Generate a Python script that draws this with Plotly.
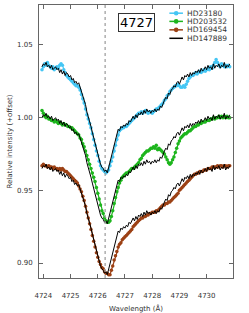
import plotly.graph_objects as go

wl_start = 4723.95
wl_step = 0.05

hd147889 = [
    1.035, 1.037, 1.036, 1.038, 1.035, 1.036, 1.034, 1.036, 1.033, 1.034,
    1.035, 1.033, 1.034, 1.031, 1.033, 1.030, 1.032, 1.029, 1.031, 1.030,
    1.028, 1.029, 1.026, 1.027, 1.024, 1.025, 1.023, 1.024, 1.021, 1.019,
    1.016, 1.012, 1.009, 1.004, 1.001, 0.997, 0.994, 0.990, 0.986, 0.982,
    0.978, 0.974, 0.971, 0.968, 0.966, 0.965, 0.963, 0.964, 0.962, 0.966,
    0.969, 0.974, 0.977, 0.982, 0.986, 0.990, 0.992, 0.991, 0.994, 0.993,
    0.995, 0.994, 0.996, 0.995, 0.998, 0.997, 0.999, 1.001, 0.999, 1.002,
    1.000, 1.003, 1.002, 1.004, 1.002, 1.005, 1.003, 1.006, 1.004, 1.005,
    1.003, 1.005, 1.004, 1.006, 1.004, 1.006, 1.005, 1.008, 1.007, 1.010,
    1.012, 1.014, 1.013, 1.017, 1.016, 1.019, 1.020, 1.022, 1.021, 1.024,
    1.025, 1.023, 1.026, 1.028, 1.026, 1.029, 1.028, 1.030, 1.028, 1.031,
    1.029, 1.031, 1.030, 1.032, 1.031, 1.033, 1.031, 1.034, 1.032, 1.033,
    1.035, 1.033, 1.036, 1.034, 1.035, 1.033, 1.037, 1.034, 1.036, 1.035,
    1.037, 1.034, 1.036, 1.035, 1.038, 1.034, 1.036, 1.035, 1.037,
]
hd147889_offsets = [0.0, -0.035, -0.070]

hd23180 = [
    1.033, 1.035, 1.037, 1.036, 1.038, 1.036, 1.035, 1.034, 1.035, 1.033,
    1.034, 1.035, 1.034, 1.036, 1.037, 1.036, 1.033, 1.031, 1.029, 1.028,
    1.027, 1.026, 1.025, 1.024, 1.023, 1.022, 1.022, 1.021, 1.019, 1.016,
    1.013, 1.010, 1.006, 1.002, 0.999, 0.996, 0.993, 0.989, 0.985, 0.981,
    0.977, 0.974, 0.970, 0.967, 0.965, 0.964, 0.963, 0.962, 0.963, 0.964,
    0.967, 0.970, 0.973, 0.977, 0.981, 0.985, 0.988, 0.991, 0.992, 0.993,
    0.993, 0.994, 0.994, 0.995, 0.996, 0.997, 0.998, 0.999, 1.000, 1.001,
    1.002, 1.003, 1.003, 1.004, 1.003, 1.004, 1.005, 1.004, 1.003, 1.004,
    1.004, 1.003, 1.004, 1.005, 1.006, 1.006, 1.007, 1.008, 1.009, 1.010,
    1.012, 1.013, 1.015, 1.016, 1.018, 1.019, 1.020, 1.021, 1.022, 1.022,
    1.023, 1.022, 1.021, 1.021, 1.022, 1.021, 1.023, 1.025, 1.027, 1.028,
    1.029, 1.029, 1.030, 1.031, 1.030, 1.031, 1.032, 1.031, 1.032, 1.033,
    1.032, 1.033, 1.034, 1.033, 1.035, 1.034, 1.036, 1.038, 1.040, 1.038,
    1.036, 1.035, 1.037, 1.036, 1.035, 1.036, 1.035, 1.036, 1.035,
]

hd203532 = [
    1.005, 1.003, 1.001, 1.000, 1.001, 0.999, 0.999, 0.998, 0.998, 0.997,
    0.998, 0.997, 0.996, 0.997, 0.996, 0.995, 0.996, 0.995, 0.995, 0.994,
    0.994, 0.993, 0.993, 0.992, 0.991, 0.990, 0.989, 0.988, 0.986, 0.985,
    0.982, 0.980, 0.977, 0.974, 0.971, 0.968, 0.965, 0.962, 0.959, 0.956,
    0.952, 0.948, 0.944, 0.940, 0.936, 0.934, 0.931, 0.929, 0.928, 0.928,
    0.929, 0.932, 0.936, 0.941, 0.945, 0.949, 0.952, 0.955, 0.957, 0.959,
    0.960, 0.961, 0.962, 0.962, 0.963, 0.964, 0.965, 0.965, 0.966, 0.967,
    0.968, 0.969, 0.971, 0.972, 0.974, 0.975, 0.976, 0.977, 0.977, 0.978,
    0.979, 0.979, 0.980, 0.979, 0.981, 0.978, 0.979, 0.978, 0.977, 0.976,
    0.975, 0.973, 0.971, 0.969, 0.968, 0.969, 0.971, 0.973, 0.976, 0.979,
    0.982, 0.984, 0.986, 0.987, 0.988, 0.989, 0.989, 0.990, 0.991, 0.991,
    0.992, 0.993, 0.994, 0.994, 0.995, 0.995, 0.996, 0.996, 0.997, 0.997,
    0.997, 0.998, 0.998, 0.998, 0.999, 0.999, 1.000, 0.999, 1.000, 1.000,
    1.001, 1.000, 1.001, 1.000, 1.001, 1.000, 1.001, 1.000, 1.000,
]

hd169454 = [
    0.967, 0.968, 0.967, 0.967, 0.966, 0.967, 0.966, 0.966, 0.965, 0.966,
    0.965, 0.965, 0.964, 0.965, 0.964, 0.965, 0.964, 0.963, 0.963, 0.962,
    0.961, 0.960, 0.959, 0.958, 0.957, 0.956, 0.955, 0.953, 0.951, 0.949,
    0.946, 0.943, 0.939, 0.935, 0.931, 0.927, 0.923, 0.919, 0.915, 0.911,
    0.907, 0.904, 0.901, 0.899, 0.897, 0.896, 0.894, 0.893, 0.893, 0.892,
    0.892, 0.895, 0.898, 0.902, 0.905, 0.908, 0.911, 0.913, 0.914, 0.916,
    0.917, 0.918, 0.919, 0.920, 0.921, 0.922, 0.923, 0.925, 0.926, 0.927,
    0.928, 0.929, 0.930, 0.931, 0.931, 0.932, 0.932, 0.933, 0.933, 0.934,
    0.934, 0.935, 0.935, 0.935, 0.936, 0.936, 0.937, 0.938, 0.939, 0.940,
    0.940, 0.941, 0.941, 0.942, 0.942, 0.943, 0.944, 0.945, 0.946, 0.947,
    0.948, 0.950, 0.951, 0.952, 0.953, 0.954, 0.955, 0.956, 0.957, 0.958,
    0.959, 0.960, 0.961, 0.961, 0.962, 0.962, 0.963, 0.963, 0.963, 0.964,
    0.964, 0.964, 0.965, 0.965, 0.965, 0.966, 0.966, 0.966, 0.966, 0.967,
    0.966, 0.967, 0.967, 0.966, 0.967, 0.967, 0.966, 0.967, 0.967,
]

wavelength = [round(wl_start + wl_step * i, 2) for i in range(len(hd147889))]

x_ticks = [4724, 4725, 4726, 4727, 4728, 4729, 4730]
y_ticks = [0.90, 0.95, 1.00, 1.05]
y_tick_labels = ["0.90", "0.95", "1.00", "1.05"]
dib_center = 4726.27
label_text = "4727"

series_names = ["HD23180", "HD203532", "HD169454"]
series_values = [hd23180, hd203532, hd169454]
series_colors = ["#45c6f4", "#1db51d", "#9c4115"]
ref_name = "HD147889"

TXT = "#333333"
FONT = "DejaVu Sans"

fig = go.Figure()
for name, vals, col in zip(series_names, series_values, series_colors):
    fig.add_trace(go.Scatter(
        x=wavelength, y=vals, name=name, mode="lines+markers",
        line=dict(color=col, width=1.2),
        marker=dict(color=col, size=3.5, symbol="circle"),
        showlegend=False,
    ))
for off in hd147889_offsets:
    fig.add_trace(go.Scatter(
        x=wavelength, y=[v + off for v in hd147889], name=ref_name,
        mode="lines", line=dict(color="black", width=1),
        showlegend=False,
    ))

# dashed line at the DIB centre
fig.add_shape(type="line", x0=dib_center, x1=dib_center, xref="x",
              y0=0, y1=1, yref="paper",
              line=dict(color="#999999", width=1.2, dash="dot"))

# boxed label
fig.add_annotation(x=0.505, y=0.937, xref="paper", yref="paper",
                   text=label_text, showarrow=False,
                   font=dict(size=13, color="black", family=FONT),
                   bordercolor="#333333", borderwidth=1, borderpad=1,
                   bgcolor="white", xanchor="center", yanchor="middle")

# compact legend (drawn manually: plotly's native legend rows are too tall)
leg_rows = [0.970, 0.940, 0.909, 0.878]
leg_x0, leg_x1, leg_tx = 0.672, 0.742, 0.752
leg_names = series_names + [ref_name]
leg_colors = series_colors + ["black"]
for i, (nm, col) in enumerate(zip(leg_names, leg_colors)):
    yy = leg_rows[i]
    fig.add_shape(type="line", xref="paper", yref="paper",
                  x0=leg_x0, x1=leg_x1, y0=yy, y1=yy,
                  line=dict(color=col, width=1.5))
    if i < 3:
        fig.add_shape(type="circle", xref="paper", yref="paper",
                      xsizemode="pixel", ysizemode="pixel",
                      xanchor=(leg_x0 + leg_x1) / 2, yanchor=yy,
                      x0=-2.3, x1=2.3, y0=-2.3, y1=2.3,
                      fillcolor=col, line=dict(color=col, width=0))
    fig.add_annotation(x=leg_tx, y=yy, xref="paper", yref="paper",
                       text=nm, showarrow=False, xanchor="left", yanchor="middle",
                       font=dict(size=7.5, color=TXT, family=FONT))

axis_common = dict(
    showline=True, linecolor="#666666", linewidth=1, mirror="ticks",
    ticks="inside", ticklen=4, tickcolor="#666666", tickwidth=1,
    showgrid=False, zeroline=False,
    tickfont=dict(size=7, color=TXT, family=FONT),
)

fig.update_xaxes(range=[4723.84, 4730.97], tickvals=x_ticks,
                 ticklabelstandoff=11,
                 title=dict(text="Wavelength (Å)", standoff=6,
                            font=dict(size=7, color=TXT, family=FONT)),
                 **axis_common)
fig.update_yaxes(range=[0.8897, 1.0775], tickvals=y_ticks, ticktext=y_tick_labels,
                 ticklabelstandoff=4,
                 title=dict(text="Relative intensity (+offset)", standoff=3,
                            font=dict(size=7, color=TXT, family=FONT)),
                 **axis_common)

fig.update_layout(
    width=249, height=313,
    margin=dict(l=39, r=16, t=5, b=35, autoexpand=False),
    paper_bgcolor="white", plot_bgcolor="white",
    showlegend=False,
    font=dict(family=FONT),
)

fig.write_html("out.html",
               config={"displayModeBar": False},
               post_script="document.body.style.margin='0';document.body.style.padding='0';")
